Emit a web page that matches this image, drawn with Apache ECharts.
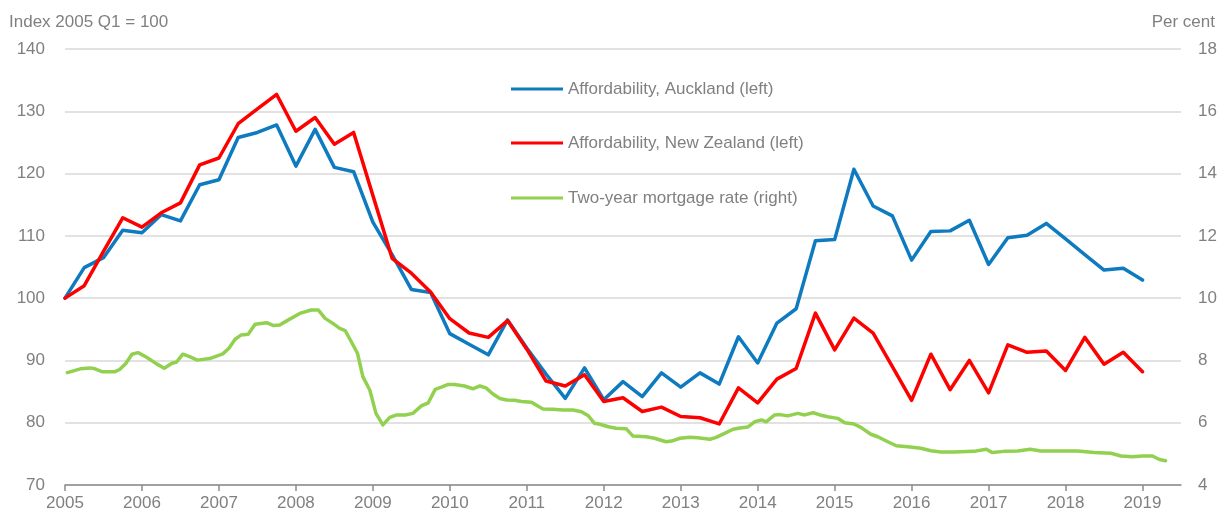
<!DOCTYPE html>
<html>
<head>
<meta charset="utf-8">
<script src="https://cdn.jsdelivr.net/npm/echarts@6/dist/echarts.min.js"></script>
<style>
  html, body { margin: 0; padding: 0; background: #fff; }
  #chart { width: 1228px; height: 514px; }
</style>
</head>
<body>
<div id="chart"></div>
<script>
// quarterly index, 2005 Q1 = 100
var startYear = 2005;
var auckland = [
  100, 104.9, 106.5, 110.9,
  110.5, 113.4, 112.4, 118.2,
  119.0, 125.8, 126.6, 127.8,
  121.2, 127.1, 121.0, 120.3,
  112.2, 107.0, 101.4, 100.9,
  94.3, 92.6, 90.9, 96.5,
  92.0, 87.8, 83.9, 88.8,
  83.7, 86.6, 84.2, 88.0,
  85.7, 88.0, 86.2, 93.8,
  89.6, 96.0, 98.3, 109.2,
  109.4, 120.7, 114.8, 113.2,
  106.1, 110.7, 110.8, 112.5,
  105.4, 109.7, 110.1, 112.0,
  109.5, 107.0, 104.5, 104.8,
  102.9
];
var newZealand = [
  100, 102.0, 107.5, 112.9,
  111.4, 113.7, 115.3, 121.4,
  122.5, 128.0, 130.4, 132.7,
  126.8, 129.0, 124.7, 126.6,
  116.5, 106.4, 104.0, 101.0,
  96.7, 94.4, 93.7, 96.4,
  91.8, 86.7, 85.9, 87.7,
  83.4, 84.0, 81.8, 82.5,
  81.0, 80.8, 79.8, 85.6,
  83.2, 87.0, 88.7, 97.6,
  91.7, 96.8, 94.4, 89.0,
  83.6, 91.0, 85.3, 90.0,
  84.8, 92.5, 91.3, 91.5,
  88.4, 93.7, 89.4, 91.3,
  88.2
];

// two-year mortgage rate, per cent
var rateTime = [
  2005.03, 2005.2, 2005.33, 2005.39, 2005.48, 2005.65, 2005.71, 2005.79, 2005.87, 2005.95,
  2006.06, 2006.19, 2006.29, 2006.39, 2006.45, 2006.53, 2006.62, 2006.72, 2006.88, 2006.97,
  2007.05, 2007.13, 2007.21, 2007.29, 2007.38, 2007.47, 2007.62, 2007.71, 2007.79, 2007.88,
  2008.05, 2008.2, 2008.29, 2008.38, 2008.48, 2008.57, 2008.64, 2008.72, 2008.8, 2008.87, 2008.96,
  2009.04, 2009.13, 2009.22, 2009.31, 2009.42, 2009.52, 2009.63, 2009.72, 2009.81, 2009.89, 2009.98,
  2010.06, 2010.19, 2010.3, 2010.39, 2010.47, 2010.56, 2010.65, 2010.74, 2010.84, 2010.93,
  2011.06, 2011.12, 2011.21, 2011.34, 2011.47, 2011.6, 2011.71, 2011.8, 2011.88, 2011.95,
  2012.06, 2012.16, 2012.29, 2012.38, 2012.55, 2012.66, 2012.81, 2012.88, 2012.99,
  2013.12, 2013.22, 2013.38, 2013.46, 2013.57, 2013.68, 2013.77, 2013.87, 2013.96,
  2014.05, 2014.11, 2014.22, 2014.29, 2014.39, 2014.52, 2014.61, 2014.72, 2014.81, 2014.91,
  2015.04, 2015.13, 2015.25, 2015.34, 2015.47, 2015.56, 2015.69, 2015.8, 2015.95,
  2016.12, 2016.25, 2016.38, 2016.55, 2016.81, 2016.97,
  2017.05, 2017.2, 2017.38, 2017.54, 2017.68, 2017.94,
  2018.16, 2018.37, 2018.59, 2018.72, 2018.87,
  2019.0, 2019.13, 2019.22, 2019.3
];
var rateValue = [
  7.61, 7.73, 7.76, 7.73, 7.64, 7.64, 7.71, 7.90, 8.20, 8.25,
  8.10, 7.89, 7.75, 7.91, 7.95, 8.20, 8.12, 8.01, 8.06, 8.14,
  8.21, 8.39, 8.68, 8.82, 8.84, 9.16, 9.21, 9.12, 9.14, 9.27,
  9.51, 9.62, 9.62, 9.35, 9.19, 9.03, 8.96, 8.60, 8.23, 7.48, 7.05,
  6.30, 5.93, 6.17, 6.25, 6.25, 6.30, 6.54, 6.64, 7.07, 7.14, 7.23,
  7.23, 7.18, 7.09, 7.18, 7.12, 6.92, 6.78, 6.73, 6.72, 6.68,
  6.66, 6.57, 6.44, 6.43, 6.41, 6.41, 6.35, 6.22, 5.98, 5.95,
  5.87, 5.82, 5.81, 5.57, 5.55, 5.50, 5.39, 5.41, 5.50,
  5.53, 5.52, 5.47, 5.53, 5.66, 5.79, 5.83, 5.86, 6.03,
  6.09, 6.03, 6.25, 6.26, 6.22, 6.30, 6.25, 6.32, 6.25, 6.19,
  6.14, 6.00, 5.96, 5.85, 5.63, 5.55, 5.39, 5.26, 5.23,
  5.18, 5.10, 5.06, 5.06, 5.08, 5.15,
  5.04, 5.08, 5.09, 5.15, 5.09, 5.09,
  5.09, 5.04, 5.02, 4.93, 4.91,
  4.93, 4.93, 4.82, 4.78
];

var yearTicks = [2005, 2006, 2007, 2008, 2009, 2010, 2011, 2012, 2013, 2014, 2015, 2016, 2017, 2018, 2019];

var names = ['Affordability, Auckland (left)', 'Affordability, New Zealand (left)', 'Two-year mortgage rate (right)'];
var colors = ['#0E7BC0', '#FF0000', '#92D050'];

function quarterly(vals) {
  return vals.map(function (v, i) { return [startYear + i * 0.25, v]; });
}

var font = 'Liberation Sans, Arial, sans-serif';
var grey = '#808080';

var chart = echarts.init(document.getElementById('chart'));

function legendAt(i, top) {
  return {
    data: [{ name: names[i], itemStyle: { color: colors[i] } }],
    left: 511,
    top: top,
    icon: 'rect',
    itemWidth: 52,
    itemHeight: 3,
    itemGap: 0,
    padding: 0,
    selectedMode: false,
    textStyle: { color: grey, fontSize: 17, fontFamily: font, lineHeight: 20 }
  };
}

function lineSeries(i, axis, z, data) {
  return {
    name: names[i], type: 'line', yAxisIndex: axis, symbol: 'none', z: z,
    itemStyle: { color: colors[i] },
    lineStyle: { width: 3.5, color: colors[i], join: 'round', cap: 'round' },
    data: data
  };
}

var option = {
  animation: false,
  textStyle: { fontFamily: font },
  grid: { left: 65, right: 47, top: 49, bottom: 29, containLabel: false },
  title: [
    { text: 'Index 2005 Q1 = 100', left: 9, top: 14, padding: 0,
      textStyle: { color: grey, fontSize: 17, fontWeight: 'normal', fontFamily: font } },
    { text: 'Per cent', right: 13, top: 14, padding: 0,
      textStyle: { color: grey, fontSize: 17, fontWeight: 'normal', fontFamily: font } }
  ],
  legend: [legendAt(0, 79), legendAt(1, 133), legendAt(2, 188)],
  xAxis: {
    type: 'value',
    min: 2005,
    max: 2019.5,
    interval: 1,
    splitLine: { show: false },
    axisLine: { show: true, lineStyle: { color: '#8C8C8C', width: 1.5 } },
    axisTick: { show: true, length: 6, customValues: yearTicks, lineStyle: { color: '#8C8C8C', width: 1.5 } },
    axisLabel: { customValues: yearTicks, color: grey, fontSize: 17, margin: 10, fontFamily: font,
      formatter: function (v) { return String(v); } }
  },
  yAxis: [
    {
      type: 'value', min: 70, max: 140, interval: 10,
      axisLine: { show: false }, axisTick: { show: false },
      axisLabel: { color: grey, fontSize: 17, margin: 20, fontFamily: font },
      splitLine: { lineStyle: { color: '#D9D9D9', width: 1.5 } }
    },
    {
      type: 'value', min: 4, max: 18, interval: 2,
      axisLine: { show: false }, axisTick: { show: false },
      axisLabel: { color: grey, fontSize: 17, margin: 17, fontFamily: font },
      splitLine: { show: false }
    }
  ],
  series: [
    lineSeries(2, 1, 2, rateTime.map(function (t, i) { return [t, rateValue[i]]; })),
    lineSeries(0, 0, 3, quarterly(auckland)),
    lineSeries(1, 0, 4, quarterly(newZealand))
  ]
};

chart.setOption(option);
</script>
</body>
</html>
